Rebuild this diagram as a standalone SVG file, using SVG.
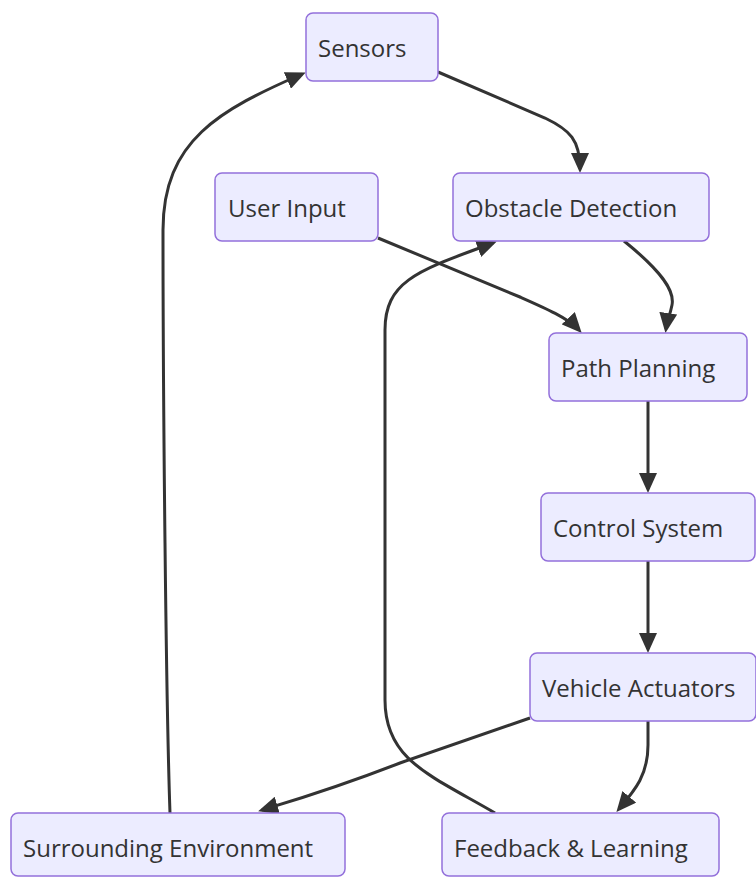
<svg xmlns="http://www.w3.org/2000/svg" width="756" height="877" viewBox="0 0 756 877">
<style>
.node rect{fill:#ECECFF;stroke:#9370DB;stroke-width:1.5}
.node text{font-family:"Open Sans","Noto Sans",sans-serif;font-size:24px;fill:#333333;dominant-baseline:central}
.edge{fill:none;stroke:#333333;stroke-width:3}
</style>
<defs>
<marker id="arrow" markerUnits="userSpaceOnUse" markerWidth="21" markerHeight="18" viewBox="0 0 21 18" refX="16" refY="9" orient="auto">
<path d="M0,0 L20,9 L0,18 z" fill="#333333"/>
</marker>
</defs>
<rect width="756" height="877" fill="#ffffff"/>
<g id="connectors">
<path class="edge" marker-end="url(#arrow)" d="M438,72 L545,118 C570,130 580,140 580,169"/>
<path class="edge" marker-end="url(#arrow)" d="M378,238 L520,297 C545,308 568,318 579,330"/>
<path class="edge" marker-end="url(#arrow)" d="M624,241 C660,270 675,290 672,305 C670,315 667,322 666,329"/>
<path class="edge" marker-end="url(#arrow)" d="M648,401 L648,489"/>
<path class="edge" marker-end="url(#arrow)" d="M648,561 L648,649"/>
<path class="edge" marker-end="url(#arrow)" d="M530,718 L400,763 C330,790 295,800 262,810"/>
<path class="edge" marker-end="url(#arrow)" d="M648,721 L648,745 C648,775 635,790 619,809"/>
<path class="edge" marker-end="url(#arrow)" d="M170,813 C166,700 163,400 163,230 C163,140 220,110 302,74"/>
<path class="edge" marker-end="url(#arrow)" d="M495,813 C430,775 385,760 385,700 L385,330 C385,280 420,270 493,243"/>
</g>
<g id="sensors" class="node"><rect x="306" y="13" width="132" height="68" rx="7"/><text x="318" y="47">Sensors</text></g>
<g id="user-input" class="node"><rect x="215" y="173" width="163" height="68" rx="7"/><text x="228" y="207">User Input</text></g>
<g id="obstacle-detection" class="node"><rect x="453" y="173" width="256" height="68" rx="7"/><text x="465" y="207">Obstacle Detection</text></g>
<g id="path-planning" class="node"><rect x="549" y="333" width="198" height="68" rx="7"/><text x="561" y="367">Path Planning</text></g>
<g id="control-system" class="node"><rect x="541" y="493" width="214" height="68" rx="7"/><text x="553" y="527">Control System</text></g>
<g id="vehicle-actuators" class="node"><rect x="530" y="653" width="226" height="68" rx="7"/><text x="542" y="687">Vehicle Actuators</text></g>
<g id="surrounding-environment" class="node"><rect x="11" y="813" width="334" height="63" rx="7"/><text x="23" y="847">Surrounding Environment</text></g>
<g id="feedback-learning" class="node"><rect x="442" y="813" width="277" height="63" rx="7"/><text x="454" y="847">Feedback &amp; Learning</text></g>
</svg>
